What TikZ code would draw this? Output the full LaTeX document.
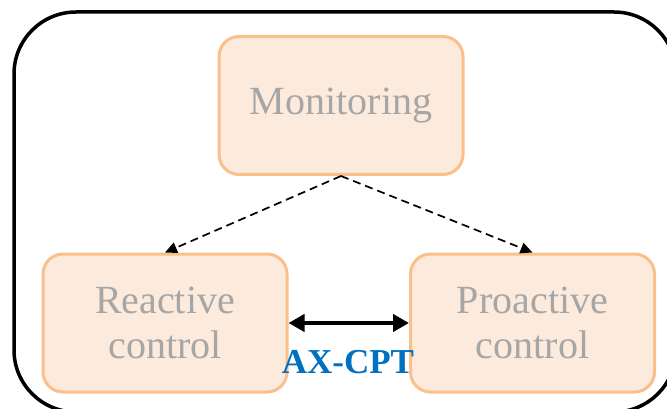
\documentclass[tikz,border=0pt]{standalone}
\usepackage{fontspec}
\setmainfont{Liberation Serif}
\usetikzlibrary{arrows.meta,positioning}

\definecolor{boxline}{HTML}{F9C08C}
\definecolor{boxfill}{HTML}{FCEADC}
\definecolor{boxtext}{HTML}{A6A6A6}
\definecolor{taskblue}{HTML}{0070C0}

\begin{document}
\begin{tikzpicture}[
		x=1pt, y=-1pt,
		block/.style={draw=boxline, line width=3pt, fill=boxfill, rounded corners=20pt, minimum height=138pt, minimum width=244pt, text width=230pt, align=center, text=boxtext, font=\fontsize{40}{45}\selectfont},
		link/.style={dashed, dash pattern=on 8pt off 5pt, line width=1.7pt, -{Triangle[length=12pt, width=11pt]}},
		task/.style={line width=4.5pt, {Triangle[length=16pt, width=17pt]}-{Triangle[length=16pt, width=17pt]}},
	]
		\clip (0,0) rectangle (667,409);
		\draw[line width=3.5pt, rounded corners=62pt] (14,12) rectangle (676,412);

		\node[block] (mon) at (341,105.5) {Monitoring};
		\node[block] (react) at (165,323) {Reactive\\control};
		\node[block] (proact) at (532.5,323) {Proactive\\control};

		\draw[link] (mon.south) -- (react.north);
		\draw[link] (mon.south) -- (proact.north);
		\draw[task] (react.east) -- (proact.west);

		\node[text=taskblue, font=\bfseries\fontsize{35}{40}\selectfont] (ax) at (348,362) {AX-CPT};
	\end{tikzpicture}
\end{document}
